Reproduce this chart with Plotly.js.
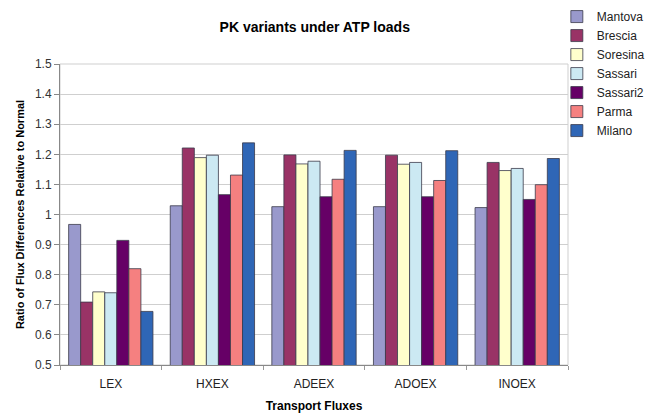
<!DOCTYPE html>
<html><head><meta charset="utf-8">
<script src="https://cdn.plot.ly/plotly-3.0.1.min.js"></script>
<style>body{margin:0;background:#fff}#c{width:649px;height:415px}</style>
</head><body><div id="c"></div>
<script>
const categories = ["LEX", "HXEX", "ADEEX", "ADOEX", "INOEX"];
const seriesNames = ["Mantova", "Brescia", "Soresina", "Sassari", "Sassari2", "Parma", "Milano"];
const mantova  = [0.967, 1.029, 1.026, 1.026, 1.023];
const brescia  = [0.709, 1.221, 1.198, 1.197, 1.173];
const soresina = [0.743, 1.189, 1.168, 1.167, 1.146];
const sassari  = [0.740, 1.197, 1.177, 1.173, 1.153];
const sassari2 = [0.914, 1.066, 1.059, 1.059, 1.050];
const parma    = [0.820, 1.131, 1.117, 1.113, 1.099];
const milano   = [0.678, 1.238, 1.213, 1.212, 1.186];
const colors = ["#9999cc", "#993366", "#ffffcc", "#cce9f3", "#660066", "#f58080", "#2f66b6"];

const values = [mantova, brescia, soresina, sassari, sassari2, parma, milano];
const traces = values.map((v, i) => ({
  type: "bar", name: seriesNames[i], x: categories, y: v,
  marker: {color: colors[i], line: {color: "#3a3a4a", width: 0.8}}
}));

const layout = {
  width: 649, height: 415,
  margin: {l: 60, r: 81, t: 64, b: 50, autoexpand: false},
  paper_bgcolor: "#fff", plot_bgcolor: "#fff",
  font: {family: "Liberation Sans, Arial, sans-serif", size: 11, color: "#000"},
  title: {text: "<b>PK variants under ATP loads</b>", font: {size: 14}, x: 0.485, xanchor: "center", y: 0.935, yanchor: "middle"},
  barmode: "group", bargap: 0.17, bargroupgap: 0,
  xaxis: {
    title: {text: "<b>Transport Fluxes</b>", font: {size: 12}, standoff: 11},
    tickson: "boundaries", ticks: "outside", ticklen: 4, tickcolor: "#999",
    ticklabelstandoff: 8,
    showline: true, linecolor: "#888", mirror: false, showgrid: false,
    tickfont: {size: 12, color: "#222"}
  },
  yaxis: {
    title: {text: "<b>Ratio of Flux Differences Relative to Normal</b>", font: {size: 11}, standoff: 8},
    range: [0.5, 1.5], dtick: 0.1, ticks: "outside", ticklen: 5, tickcolor: "#888",
    showline: true, linecolor: "#888", gridcolor: "#cfcfcf", zeroline: false,
    tickfont: {size: 12, color: "#333"}
  },
  shapes: [{type: "rect", xref: "paper", yref: "paper", x0: 0, x1: 1, y0: 0, y1: 1, line: {color: "#cfcfcf", width: 1}, layer: "below"}],
  legend: {xref: "container", yref: "container", x: 0.858, y: 0.995, xanchor: "left", yanchor: "top",
           font: {size: 12, color: "#222"}, tracegroupgap: 0, itemwidth: 30, bgcolor: "rgba(0,0,0,0)"}
};
Plotly.newPlot("c", traces, layout, {displayModeBar: false});
</script></body></html>
